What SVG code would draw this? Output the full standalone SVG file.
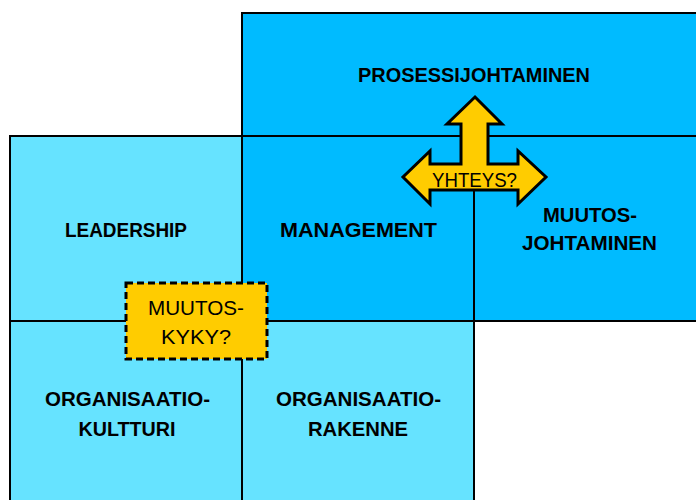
<svg xmlns="http://www.w3.org/2000/svg" width="696" height="500" viewBox="0 0 696 500">
  <style>
    .dark { fill: #00BBFF; stroke: #000; stroke-width: 2; }
    .light { fill: #66E3FF; stroke: #000; stroke-width: 2; }
    .lbl { font-family: "Liberation Sans", Arial, sans-serif; font-weight: bold; font-size: 21px; fill: #000; text-anchor: middle; }
    .note { font-family: "Liberation Sans", Arial, sans-serif; font-size: 21px; fill: #000; text-anchor: middle; }
    .gold { fill: #FFCC00; stroke: #000; stroke-width: 3; stroke-linejoin: miter; }
  </style>

  <rect width="696" height="500" fill="#fff"/>

  <g id="prosessijohtaminen">
    <rect class="dark" x="242" y="13" width="470" height="123"/>
    <text class="lbl" x="474" y="82" textLength="232" lengthAdjust="spacingAndGlyphs">PROSESSIJOHTAMINEN</text>
  </g>

  <g id="leadership">
    <rect class="light" x="10" y="136" width="232" height="185"/>
    <text class="lbl" x="126" y="237" textLength="122" lengthAdjust="spacingAndGlyphs">LEADERSHIP</text>
  </g>

  <g id="management">
    <rect class="dark" x="242" y="136" width="232" height="185"/>
    <text class="lbl" x="358.5" y="237" textLength="157" lengthAdjust="spacingAndGlyphs">MANAGEMENT</text>
  </g>

  <g id="muutosjohtaminen">
    <rect class="dark" x="474" y="136" width="238" height="185"/>
    <text class="lbl" x="590" y="222" textLength="94" lengthAdjust="spacingAndGlyphs">MUUTOS-</text>
    <text class="lbl" x="589.5" y="250" textLength="135" lengthAdjust="spacingAndGlyphs">JOHTAMINEN</text>
  </g>

  <g id="organisaatiokulttuuri">
    <rect class="light" x="10" y="321" width="232" height="195"/>
    <text class="lbl" x="127.5" y="406" textLength="165" lengthAdjust="spacingAndGlyphs">ORGANISAATIO-</text>
    <text class="lbl" x="127" y="436" textLength="97" lengthAdjust="spacingAndGlyphs">KULTTURI</text>
  </g>

  <g id="organisaatiorakenne">
    <rect class="light" x="242" y="321" width="232" height="195"/>
    <text class="lbl" x="358.5" y="406" textLength="165" lengthAdjust="spacingAndGlyphs">ORGANISAATIO-</text>
    <text class="lbl" x="358" y="436" textLength="100" lengthAdjust="spacingAndGlyphs">RAKENNE</text>
  </g>

  <!-- three-way arrow between management, process and change management -->
  <g id="yhteys">
    <polygon class="gold" points="475,97 502,124 488,124 488,164 518,164 518,151 546,177 518,204 518,190 430,190 430,204 403,177 430,151 430,164 461,164 461,124 447,124"/>
    <text class="note" x="474.5" y="187" textLength="85" lengthAdjust="spacingAndGlyphs">YHTEYS?</text>
  </g>

  <g id="muutoskyky">
    <rect x="126" y="283" width="141" height="76" fill="#FFCC00" stroke="#000" stroke-width="3" stroke-dasharray="7 4"/>
    <text class="note" x="196" y="315" textLength="96" lengthAdjust="spacingAndGlyphs">MUUTOS-</text>
    <text class="note" x="196" y="344" textLength="70" lengthAdjust="spacingAndGlyphs">KYKY?</text>
  </g>
</svg>
